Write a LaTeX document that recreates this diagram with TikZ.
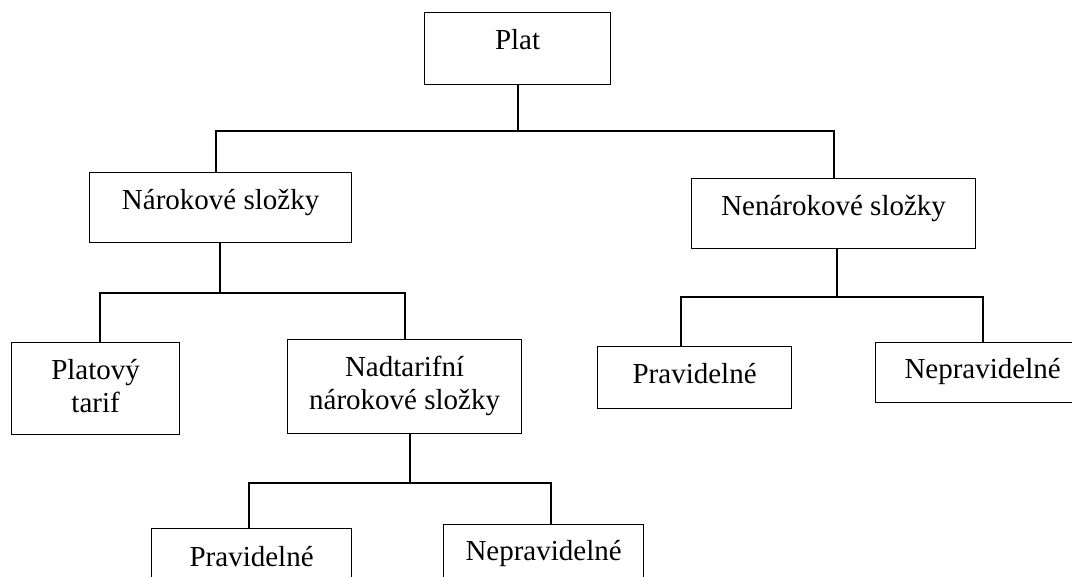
\documentclass[tikz,border=0pt]{standalone}
\usepackage{fontspec}
\setmainfont{Liberation Serif}
\usepackage{xcolor}
\usepackage{tikz}
\usetikzlibrary{calc}
\definecolor{ink}{HTML}{000000}
\definecolor{paper}{HTML}{FFFFFF}
\tikzset{
  box/.style={draw=ink, line width=1.2pt, inner sep=0pt, align=center, anchor=north west,
    font=\fontsize{29}{33}\selectfont},
  conn/.style={draw=ink, line width=1.9pt, line cap=rect},
}

\begin{document}
\begin{tikzpicture}[x=1pt,y=-1pt]
  \useasboundingbox[fill=paper] (0,0) rectangle (1072,577);
  \clip (0,0) rectangle (1072,577);
  % boxes
  \node[box, minimum width=186pt, text height=37pt, text depth=35pt] (plat) at (424,12) {Plat};
  \node[box, minimum width=262pt, text height=37pt, text depth=33pt] (narok) at (89,172) {Nárokové složky};
  \node[box, minimum width=284pt, text height=37pt, text depth=33pt] (nenarok) at (691,178) {Nenárokové složky};
  \node[box, minimum width=168pt, text height=70pt, text depth=22pt] (platovy) at (11,342) {Platový\\tarif};
  \node[box, minimum width=234pt, text height=70pt, text depth=24pt] (nadtar) at (287,339) {Nadtarifní\\nárokové složky};
  \node[box, minimum width=194pt, text height=37pt, text depth=25pt] (prav2) at (597,346) {Pravidelné};
  \node[box, minimum width=214pt, text height=36pt, text depth=24pt] (neprav2) at (875,342) {Nepravidelné};
  \node[box, minimum width=200pt, text height=38pt, text depth=30pt] (prav1) at (151,528) {Pravidelné};
  \node[box, minimum width=200pt, text height=36pt, text depth=34pt] (neprav1) at (443,524) {Nepravidelné};
  % connectors
  \draw[conn] (plat.south) -- ++(0,46) coordinate (j0);
  \draw[conn] ([xshift=-5pt]narok.north) |- (j0) -| (nenarok.north);
  \draw[conn] ([xshift=-1pt]narok.south) -- ++(0,50) coordinate (j1);
  \draw[conn] ([xshift=4pt]platovy.north) |- (j1) -| (nadtar.north);
  \draw[conn] ([xshift=5pt]nadtar.south) -- ++(0,49) coordinate (j2);
  \draw[conn] ([xshift=-3pt]prav1.north) |- (j2) -| ([xshift=7pt]neprav1.north);
  \draw[conn] ([xshift=3pt]nenarok.south) -- ++(0,48) coordinate (j3);
  \draw[conn] ([xshift=-14pt]prav2.north) |- (j3) -| (neprav2.north);
\end{tikzpicture}
\end{document}
